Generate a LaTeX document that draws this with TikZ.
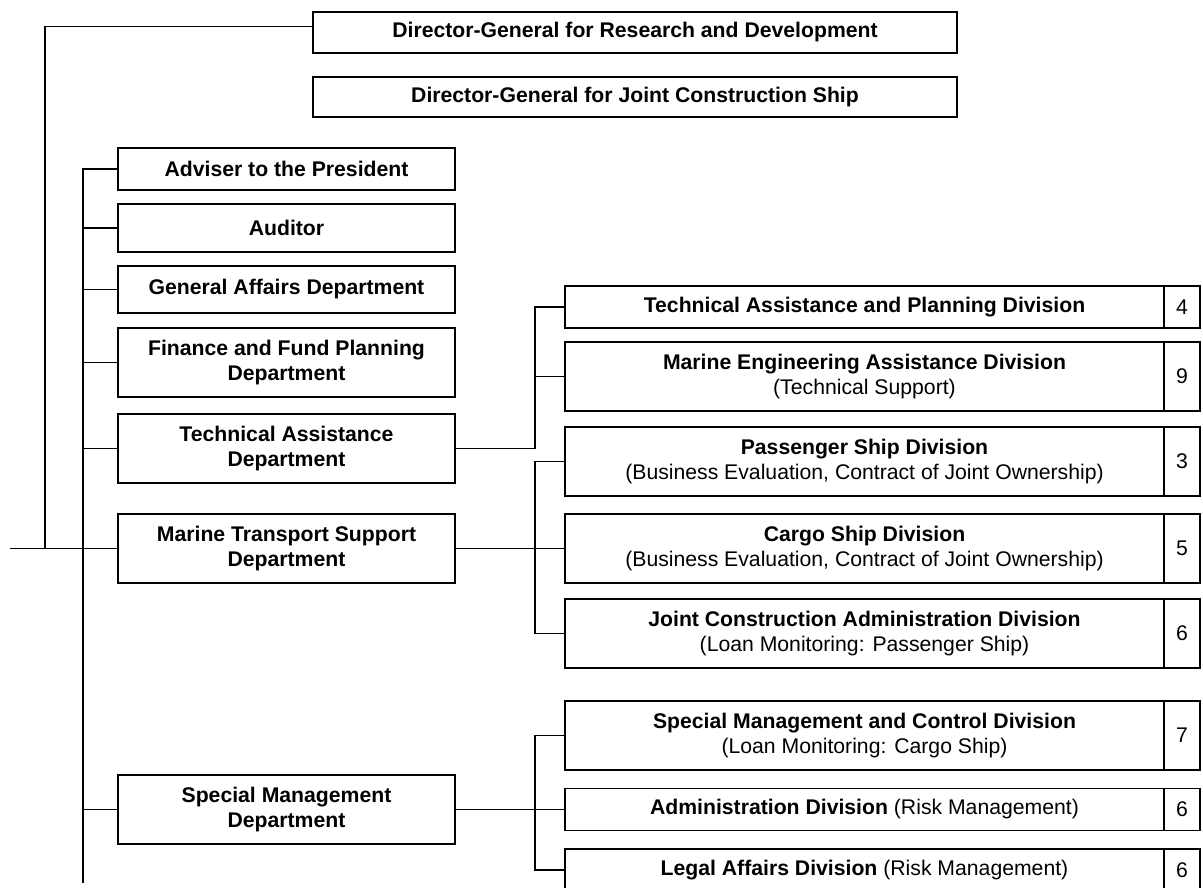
\documentclass[tikz,border=0pt]{standalone}
\usepackage{fontspec}
\setmainfont{Liberation Sans}
\begin{document}
\begin{tikzpicture}[x=1pt,y=-1pt,
  unitbox/.style={draw, line width=1.6pt, inner sep=0pt, outer sep=0pt, align=center,
    anchor=north west, font=\fontsize{21.2}{25}\selectfont\bfseries},
  numbox/.style={draw, line width=1.6pt, inner sep=0pt, outer sep=0pt, anchor=west,
    minimum width=36pt, font=\fontsize{21.2}{25}\selectfont},
  link/.style={line width=1.3pt}]
\useasboundingbox (0,0) rectangle (1203,887);
\clip (0,0) rectangle (1203,887);

% directors-general
\node[unitbox, minimum width=644pt, minimum height=41pt] (dgrd) at (313,12)
  {Director-General for Research and Development};
\node[unitbox, minimum width=644pt, minimum height=40pt] (dgjc) at (313,77)
  {Director-General for Joint Construction Ship};

% departments
\node[unitbox, minimum width=337pt, minimum height=42pt] (adv) at (118,148) {Adviser to the President};
\node[unitbox, minimum width=337pt, minimum height=48pt] (aud) at (118,204) {Auditor};
\node[unitbox, minimum width=337pt, minimum height=47pt] (gad) at (118,266) {General Affairs Department};
\node[unitbox, minimum width=337pt, minimum height=69pt] (fin) at (118,328) {Finance and Fund Planning\\Department};
\node[unitbox, minimum width=337pt, minimum height=69pt] (tad) at (118,414) {Technical Assistance\\Department};
\node[unitbox, minimum width=337pt, minimum height=69pt] (mts) at (118,514) {Marine Transport Support\\Department};
\node[unitbox, minimum width=337pt, minimum height=69pt] (smd) at (118,775) {Special Management\\Department};

% divisions
\node[unitbox, minimum width=599pt, minimum height=42pt] (tap) at (565,286)
  {Technical Assistance and Planning Division};
\node[unitbox, minimum width=599pt, minimum height=69pt] (mea) at (565,342)
  {Marine Engineering Assistance Division\\{\mdseries (Technical Support)}};
\node[unitbox, minimum width=599pt, minimum height=69pt] (psd) at (565,427)
  {Passenger Ship Division\\{\mdseries (Business Evaluation, Contract of Joint Ownership)}};
\node[unitbox, minimum width=599pt, minimum height=69pt] (csd) at (565,514)
  {Cargo Ship Division\\{\mdseries (Business Evaluation, Contract of Joint Ownership)}};
\node[unitbox, minimum width=599pt, minimum height=69pt] (jca) at (565,599)
  {Joint Construction Administration Division\\{\mdseries (Loan Monitoring: Passenger Ship)}};
\node[unitbox, minimum width=599pt, minimum height=69pt] (smc) at (565,701)
  {Special Management and Control Division\\{\mdseries (Loan Monitoring: Cargo Ship)}};
\node[unitbox, minimum width=599pt, minimum height=42pt] (adm) at (565,788.5)
  {Administration Division {\mdseries (Risk Management)}};
\node[unitbox, minimum width=599pt, minimum height=42pt] (lad) at (565,849)
  {Legal Affairs Division {\mdseries (Risk Management)}};

% staff numbers
\node[numbox, minimum height=42pt] (ntap) at (tap.east) {4};
\node[numbox, minimum height=69pt] (nmea) at (mea.east) {9};
\node[numbox, minimum height=69pt] (npsd) at (psd.east) {3};
\node[numbox, minimum height=69pt] (ncsd) at (csd.east) {5};
\node[numbox, minimum height=69pt] (njca) at (jca.east) {6};
\node[numbox, minimum height=69pt] (nsmc) at (smc.east) {7};
\node[numbox, minimum height=42pt] (nadm) at (adm.east) {6};
\node[numbox, minimum height=42pt] (nlad) at (lad.east) {6};

% trunk lines
\coordinate (root) at (10,548.5);
\coordinate (trunk) at (45,548.5);
\coordinate (spine) at (83,883);
\coordinate (cx) at (535,0);

\draw[link] (root) -- (mts.west);
\draw[link] ([yshift=6pt]dgrd.west) -| (trunk);
\draw[link] (adv.west) -| (spine);
\foreach \d in {aud,gad,fin,tad,smd}
  \draw[link] (\d.west) -- (\d.west -| spine);

% technical assistance department
\draw[link] (tad.east) -- (tad.east -| cx) |- (tap.west);
\draw[link] (mea.west) -- (mea.west -| cx);

% marine transport support department
\draw[link] (mts.east) -- (csd.west);
\draw[link] (psd.west) -- (psd.west -| cx) -- (jca.west -| cx) -- (jca.west);

% special management department
\draw[link] (smd.east) -- (adm.west);
\draw[link] (smc.west) -- (smc.west -| cx) -- (lad.west -| cx) -- (lad.west);
\end{tikzpicture}
\end{document}
